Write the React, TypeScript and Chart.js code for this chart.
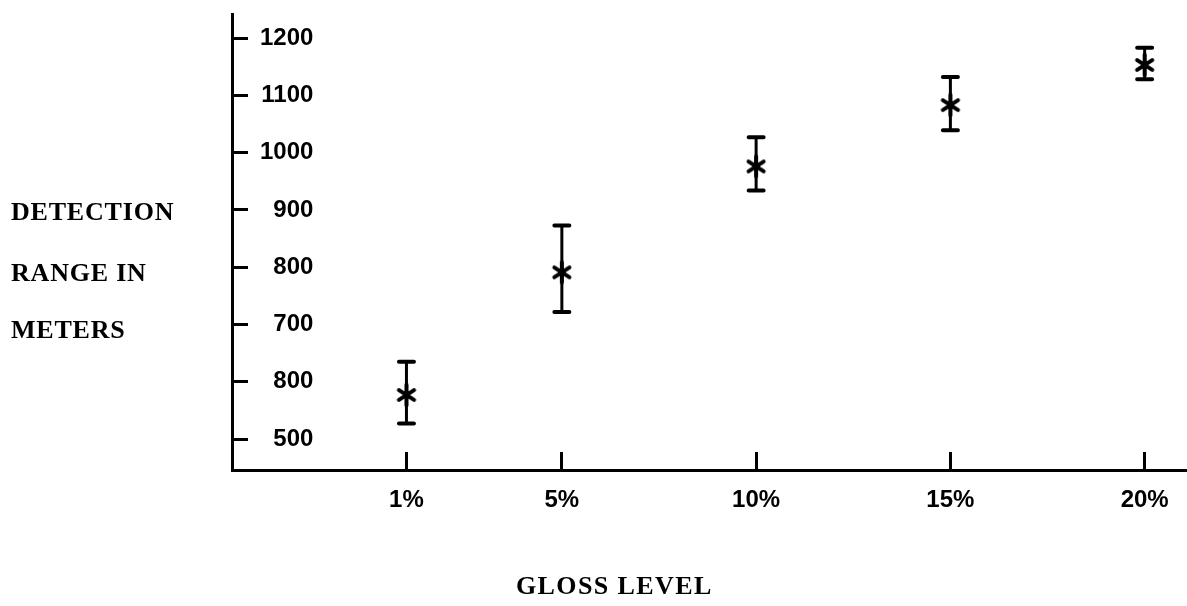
import { useEffect, useRef } from 'react';
import { Chart, registerables } from 'chart.js';

Chart.register(...registerables);

// ---- data ----
const GLOSS_LEVELS = [1, 5, 10, 15, 20];
const GLOSS_LABELS = ['1%', '5%', '10%', '15%', '20%'];
const RANGE_MEAN = [577, 791, 976, 1083, 1153];
const RANGE_HIGH = [635, 873, 1027, 1132, 1183];
const RANGE_LOW = [527, 722, 934, 1039, 1128];
const Y_TICK_VALUES = [500, 600, 700, 800, 900, 1000, 1100, 1200];
const Y_TICK_LABELS = ['500', '800', '700', '800', '900', '1000', '1100', '1200'];
const Y_TITLE_LINES = ['DETECTION', 'RANGE IN', 'METERS'];
const X_TITLE = 'GLOSS LEVEL';

const SANS = '"Liberation Sans", Arial, Helvetica, sans-serif';
const SERIF = '"Liberation Serif", "Times New Roman", Times, serif';

function makeAsterisk(): HTMLCanvasElement {
  const c = document.createElement('canvas');
  c.width = 26;
  c.height = 26;
  const g = c.getContext('2d')!;
  g.strokeStyle = '#000';
  g.lineWidth = 4;
  g.lineCap = 'round';
  const cx = 13;
  const cy = 13;
  const arms: [number, number][] = [
    [33, 9],
    [-33, 9],
    [90, 10],
  ];
  for (const [deg, r] of arms) {
    const a = (deg * Math.PI) / 180;
    g.beginPath();
    g.moveTo(cx - r * Math.cos(a), cy - r * Math.sin(a));
    g.lineTo(cx + r * Math.cos(a), cy + r * Math.sin(a));
    g.stroke();
  }
  g.beginPath();
  g.arc(cx, cy, 3.5, 0, Math.PI * 2);
  g.fillStyle = '#000';
  g.fill();
  return c;
}

const errorBarsPlugin = {
  id: 'errorBars',
  beforeDatasetsDraw(chart: any) {
    const { ctx, scales } = chart;
    const x = scales.x;
    const y = scales.y;
    ctx.save();
    ctx.strokeStyle = '#000';
    GLOSS_LEVELS.forEach((g, i) => {
      const px = x.getPixelForValue(g);
      const top = y.getPixelForValue(RANGE_HIGH[i]);
      const bot = y.getPixelForValue(RANGE_LOW[i]);
      ctx.lineWidth = 3;
      ctx.lineCap = 'butt';
      ctx.beginPath();
      ctx.moveTo(px, top);
      ctx.lineTo(px, bot);
      ctx.stroke();
      ctx.lineWidth = 4;
      ctx.lineCap = 'round';
      ctx.beginPath();
      ctx.moveTo(px - 7.5, top);
      ctx.lineTo(px + 7.5, top);
      ctx.moveTo(px - 7.5, bot);
      ctx.lineTo(px + 7.5, bot);
      ctx.stroke();
    });
    ctx.restore();
  },
};

const titlesPlugin = {
  id: 'titles',
  afterDraw(chart: any) {
    const ctx = chart.ctx;
    ctx.save();
    ctx.fillStyle = '#000';
    ctx.textAlign = 'left';
    ctx.textBaseline = 'alphabetic';
    ctx.font = `bold 26px ${SERIF}`;
    (ctx as any).letterSpacing = '0.8px';
    const baselines = [220, 281, 338];
    Y_TITLE_LINES.forEach((t, i) => ctx.fillText(t, 11, baselines[i]));
    (ctx as any).letterSpacing = '1.4px';
    ctx.fillText(X_TITLE, 516, 594);
    ctx.restore();
  },
};

function resetPadding(s: any) {
  s.paddingTop = 0;
  s.paddingBottom = 0;
  s.paddingLeft = 0;
  s.paddingRight = 0;
}

export default function App() {
  const ref = useRef<HTMLCanvasElement | null>(null);

  useEffect(() => {
    document.body.style.margin = '0';
    document.body.style.background = '#fff';
    const canvas = ref.current!;
    const marker = makeAsterisk();
    const chart = new Chart(canvas, {
      type: 'scatter',
      data: {
        datasets: [
          {
            label: 'Detection range',
            data: GLOSS_LEVELS.map((g, i) => ({ x: g, y: RANGE_MEAN[i] })),
            pointStyle: marker as any,
            pointRadius: 10,
            borderColor: '#000',
            backgroundColor: '#000',
            showLine: false,
          },
        ],
      },
      options: {
        responsive: false,
        animation: false,
        devicePixelRatio: 1,
        layout: { autoPadding: false, padding: { top: 14, left: 0, right: 0, bottom: 0 } },
        plugins: {
          legend: { display: false },
          tooltip: { enabled: false },
          title: { display: false },
        },
        scales: {
          x: {
            type: 'linear',
            position: 'bottom',
            min: -3.49,
            max: 21.09,
            afterBuildTicks: (s: any) => {
              s.ticks = GLOSS_LEVELS.map((v) => ({ value: v }));
            },
            afterFit: (s: any) => {
              s.height = 136;
              resetPadding(s);
            },
            border: { display: true, color: '#000', width: 3 },
            grid: {
              drawOnChartArea: false,
              drawTicks: true,
              tickLength: -18,
              tickWidth: 3,
              tickColor: '#000',
            },
            ticks: {
              autoSkip: false,
              maxRotation: 0,
              minRotation: 0,
              padding: 0,
              color: '#000',
              font: { family: SANS, size: 24, weight: 'bold', lineHeight: 4 },
              callback: (_v: any, i: number) => GLOSS_LABELS[i],
            },
          },
          y: {
            type: 'linear',
            position: 'left',
            min: 446,
            max: 1242,
            afterBuildTicks: (s: any) => {
              s.ticks = Y_TICK_VALUES.map((v) => ({ value: v }));
            },
            afterFit: (s: any) => {
              s.width = 232;
              resetPadding(s);
            },
            border: { display: true, color: '#000', width: 3 },
            grid: {
              drawOnChartArea: false,
              drawTicks: true,
              tickLength: -16,
              tickWidth: 3,
              tickColor: '#000',
            },
            ticks: {
              mirror: true,
              crossAlign: 'far',
              padding: 28,
              color: '#000',
              font: { family: SANS, size: 24, weight: 'bold' },
              callback: (_v: any, i: number) => Y_TICK_LABELS[i],
            },
          },
        },
      } as any,
      plugins: [errorBarsPlugin, titlesPlugin],
    });
    return () => chart.destroy();
  }, []);

  return (
    <div style={{ width: 1187, height: 606, background: '#fff' }}>
      <canvas ref={ref} width={1187} height={606} style={{ display: 'block', width: 1187, height: 606 }} />
    </div>
  );
}
